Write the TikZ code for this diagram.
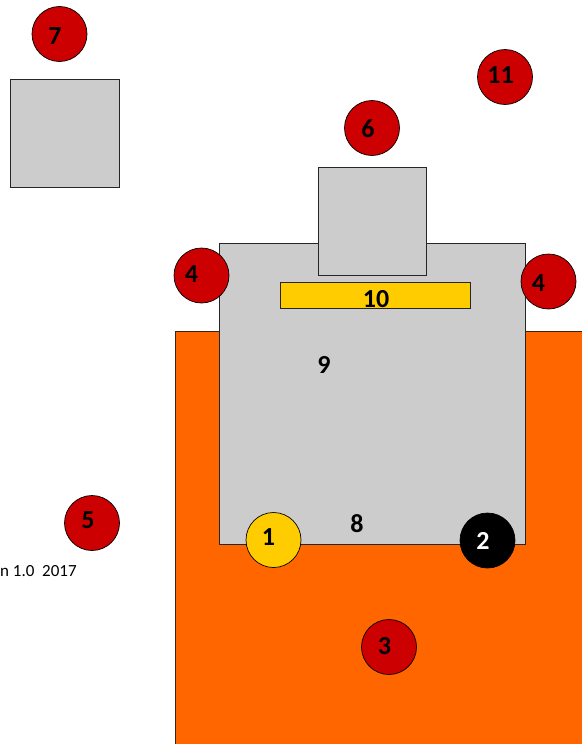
\documentclass[tikz,border=0pt]{standalone}
\usepackage{fontspec}
\setmainfont{Carlito}
\usetikzlibrary{positioning}
\definecolor{partgray}{HTML}{CCCCCC}
\definecolor{baseorange}{HTML}{FF6600}
\definecolor{markred}{HTML}{CC0000}
\definecolor{railyellow}{HTML}{FFCC00}
\tikzset{
  part/.style={draw=black!85, line width=0.9pt, fill=partgray}
}
\tikzset{
  badge/.style={circle, draw=black, line width=0.7pt, fill=markred, minimum size=55pt, inner sep=0pt}
}
\tikzset{
  tag/.style={inner sep=0pt, font=\fontsize{26}{30}\selectfont\bfseries}
}

\begin{document}
\begin{tikzpicture}[x=1pt, y=-1pt]
      \useasboundingbox (0,0) rectangle (581,744);
      % base plate
      \draw[draw=black!70!brown, line width=0.9pt, fill=baseorange] (175,760) -- (175,331) -- (600,331) -- (600,760) -- cycle;
      % main body with top block and rail
      \draw[part] (219,243) rectangle (525,544);
      \draw[part] (318,167) rectangle (426,275);
      \draw[draw=black!85, line width=0.9pt, fill=railyellow] (280,282) rectangle (470,308);
      \node[tag] (rail) at (376,299) {10};
      \node[tag] (body) at (324,365) {9};
      \node[tag] (edge) at (357,524) {8};
      % loose block at the top left
      \draw[part] (10,79) rectangle (119,187);
      % markers, numbers sit a little off centre
      \node[badge] (m7) at (59.5,34) {};
      \node[tag] (t7) at (55,36) {7};
      \node[badge] (m11) at (505,77) {};
      \node[tag] (t11) at (500.5,75) {11};
      \node[badge] (m6) at (372,128) {};
      \node[tag] (t6) at (368,129) {6};
      \node[badge] (m4l) at (201.5,275.5) {};
      \node[tag] (t4l) at (191.5,274) {4};
      \node[badge] (m4r) at (548.5,281.5) {};
      \node[tag] (t4r) at (538.5,283.5) {4};
      \node[badge] (m5) at (92,523) {};
      \node[tag] (t5) at (88,520) {5};
      \node[badge] (m3) at (389,647) {};
      \node[tag] (t3) at (384.5,646) {3};
      \node[badge, fill=railyellow] (m1) at (273.5,540) {};
      \node[tag] (t1) at (268.5,537) {1};
      \node[badge, fill=black] (m2) at (487.5,540.5) {};
      \node[tag, text=white] (t2) at (483,541) {2};
      % version note, cut at the left edge
      \node[anchor=west, inner sep=0pt, font=\fontsize{17}{20}\selectfont] (note) at (0,571) {n 1.0\ \ 2017};
\end{tikzpicture}
\end{document}
